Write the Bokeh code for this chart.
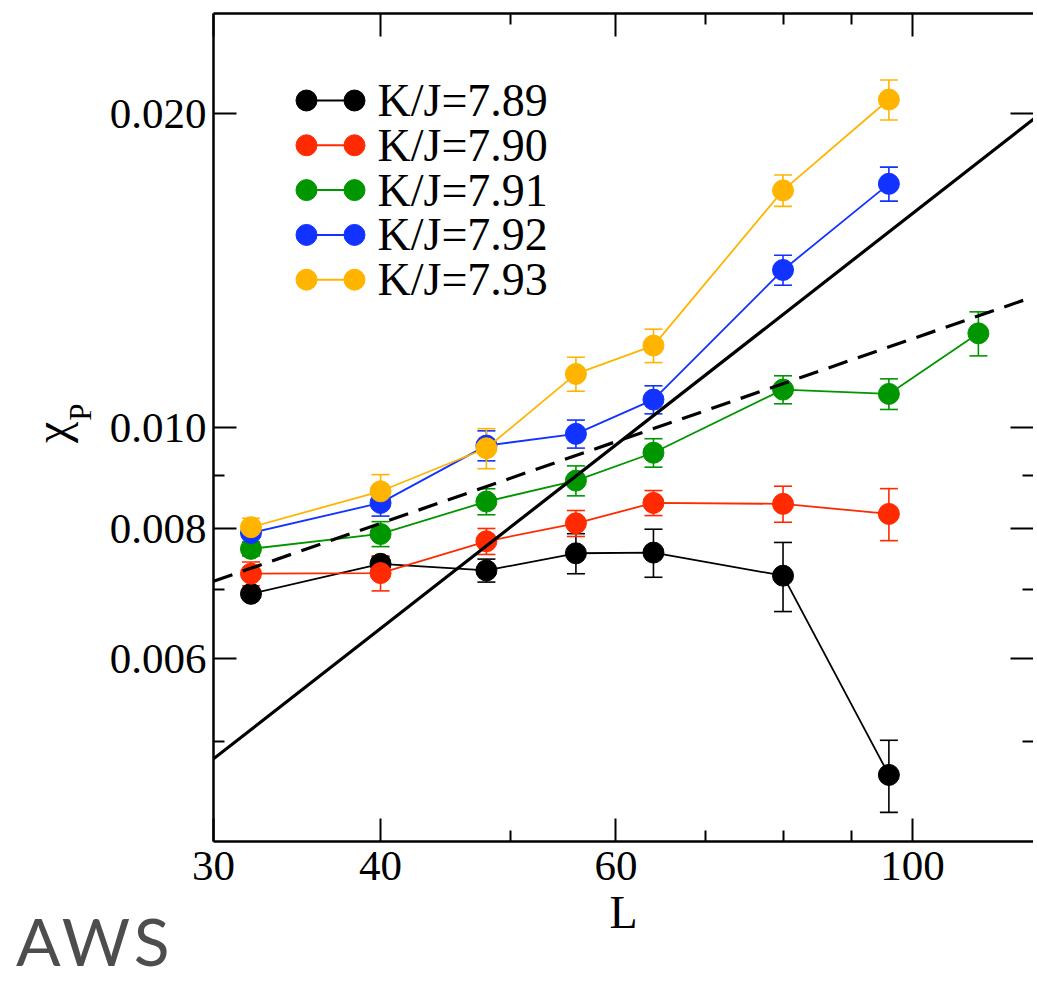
import math
from bokeh.plotting import figure
from bokeh.layouts import column
from bokeh.models import (ColumnDataSource, FixedTicker, CustomJSTickFormatter,
                          LogAxis, Whisker, TeeHead, Div)
from bokeh.core.properties import value
from bokeh.embed import file_html
from bokeh.resources import INLINE

# ---------------- data ----------------
L_789 = [32, 40, 48, 56, 64, 80, 96]
CHI_789 = [0.006928, 0.007403, 0.007295, 0.007577, 0.007588, 0.007211, 0.004645]
ERR_789 = [0.00008, 0.000110, 0.000185, 0.000335, 0.000402, 0.000549, 0.000369]

L_790 = [32, 40, 48, 56, 64, 80, 96]
CHI_790 = [0.007243, 0.007253, 0.007780, 0.008095, 0.008468, 0.008450, 0.008265]
ERR_790 = [0.000190, 0.000280, 0.000223, 0.000232, 0.000234, 0.000336, 0.000474]

L_791 = [32, 40, 48, 56, 64, 80, 96, 112]
CHI_791 = [0.007651, 0.007907, 0.008493, 0.008895, 0.009460, 0.010875, 0.010772, 0.012313]
ERR_791 = [0.000118, 0.000218, 0.000244, 0.000294, 0.000297, 0.000336, 0.000364, 0.000598]

L_792 = [32, 40, 48, 56, 64, 80, 96]
CHI_792 = [0.007925, 0.008468, 0.009610, 0.009862, 0.010637, 0.014162, 0.017128]
ERR_792 = [0.0000875, 0.000243, 0.000318, 0.000305, 0.000329, 0.000469, 0.000643]

L_793 = [32, 40, 48, 56, 64, 80, 96]
CHI_793 = [0.008026, 0.008688, 0.009554, 0.011258, 0.011985, 0.016880, 0.020630]
ERR_793 = [0.000159, 0.000326, 0.000422, 0.000422, 0.000442, 0.000585, 0.000911]

SERIES_LABELS = ["K/J=7.89", "K/J=7.90", "K/J=7.91", "K/J=7.92", "K/J=7.93"]
SERIES_COLORS = ["#000000", "#ff2a00", "#009600", "#1232ff", "#ffb400"]

FIT_L = [30, 124]
FIT_SOLID = [0.004813, 0.019895]
FIT_DASHED = [0.007123, 0.013388]

X_TICKS = [30, 40, 60, 100]
X_MINOR = [50, 70, 80, 90]
Y_TICKS = [0.006, 0.008, 0.010, 0.020]
Y_MINOR = [0.005, 0.007, 0.009]

X_LABEL = "L"
Y_LABEL_MAIN = "χ"
Y_LABEL_SUB = "P"
WATERMARK = "AWS"

# ---------------- geometry ----------------
FW, FH = 820, 828              # frame size in px
PXD_X, PXD_Y = 1337.0, 1043.0  # px per decade
X_START = 30.0
X_END = 10 ** (math.log10(X_START) + FW / PXD_X)
Y_START = 0.00401
Y_END = 10 ** (math.log10(Y_START) + FH / PXD_Y)
FL, FT = 213, 13               # frame left / top in page px
FB = FT + FH
FIG_H = 944


def fx(px):
    return 10 ** (math.log10(X_START) + (px - FL) / PXD_X)


def fy(py):
    return 10 ** (math.log10(Y_START) + (FB - py) / PXD_Y)


SERIF = "Liberation Serif"

p = figure(x_axis_type="log", y_axis_type="log",
           x_range=(X_START, X_END), y_range=(Y_START, Y_END),
           frame_width=FW, frame_height=FH,
           min_border_left=FL, min_border_right=0,
           min_border_top=FT, min_border_bottom=FIG_H - FB,
           output_backend="svg", toolbar_location=None,
           background_fill_color="white", border_fill_color="white")
p.outline_line_color = None
p.xgrid.visible = False
p.ygrid.visible = False

xfmt = CustomJSTickFormatter(code="return tick.toFixed(0)")
yfmt = CustomJSTickFormatter(code="return tick.toFixed(3)")
blank = CustomJSTickFormatter(code="return ''")


def style_axis(ax, ticks, minor, fmt, font_size, standoff):
    ax.ticker = FixedTicker(ticks=ticks, minor_ticks=minor)
    ax.formatter = fmt
    ax.major_tick_in = 23
    ax.major_tick_out = 0
    ax.minor_tick_in = 11
    ax.minor_tick_out = 0
    ax.major_tick_line_width = 2
    ax.minor_tick_line_width = 2
    ax.major_tick_line_color = "black"
    ax.minor_tick_line_color = "black"
    ax.axis_line_width = 2.5
    ax.axis_line_color = "black"
    ax.major_label_text_font = SERIF
    ax.major_label_text_font_size = font_size
    ax.major_label_text_color = "black"
    ax.major_label_standoff = standoff


xax = p.xaxis[0]
style_axis(xax, X_TICKS, X_MINOR, xfmt, "43px", 10)
xax.axis_label = X_LABEL
xax.axis_label_text_font = SERIF
xax.axis_label_text_font_size = "46px"
xax.axis_label_text_font_style = "normal"
xax.axis_label_text_color = "black"
xax.axis_label_standoff = 4

yax = p.yaxis[0]
style_axis(yax, Y_TICKS, Y_MINOR, yfmt, "43px", 7)
# subscript "P" of the y label (closest to the axis)
yax.axis_label = "\u2002\u2002" + Y_LABEL_SUB
yax.axis_label_text_font = SERIF
yax.axis_label_text_font_size = "31px"
yax.axis_label_text_font_style = "normal"
yax.axis_label_text_color = "black"
yax.axis_label_standoff = 9

# main symbol chi of the y label, on an outer bare axis
yax2 = LogAxis(ticker=FixedTicker(ticks=[], minor_ticks=[]), formatter=blank)
yax2.axis_line_color = None
yax2.major_tick_line_color = None
yax2.minor_tick_line_color = None
yax2.major_tick_in = 0
yax2.major_tick_out = 0
yax2.minor_tick_in = 0
yax2.minor_tick_out = 0
yax2.major_label_text_font_size = "1px"
yax2.major_label_standoff = 0
yax2.axis_label = Y_LABEL_MAIN + "\u2009"
yax2.axis_label_text_font = SERIF
yax2.axis_label_text_font_size = "48px"
yax2.axis_label_text_font_style = "normal"
yax2.axis_label_text_color = "black"
yax2.axis_label_standoff = -18
p.add_layout(yax2, "left")

top = LogAxis()
style_axis(top, X_TICKS, X_MINOR, blank, "1px", 0)
p.add_layout(top, "above")
right = LogAxis()
style_axis(right, Y_TICKS, Y_MINOR, blank, "1px", 0)
right.axis_line_color = None
p.add_layout(right, "right")

all_series = [(L_789, CHI_789, ERR_789), (L_790, CHI_790, ERR_790),
              (L_791, CHI_791, ERR_791), (L_792, CHI_792, ERR_792),
              (L_793, CHI_793, ERR_793)]

for (Ls, chi, err), color in zip(all_series, SERIES_COLORS):
    src = ColumnDataSource(dict(L=Ls, chi=chi,
                                upper=[c + e for c, e in zip(chi, err)],
                                lower=[c - e for c, e in zip(chi, err)]))
    w = Whisker(source=src, base="L", upper="upper", lower="lower",
                line_color=color, line_width=1.6,
                upper_head=TeeHead(size=18, line_color=color, line_width=1.6),
                lower_head=TeeHead(size=18, line_color=color, line_width=1.6))
    p.add_layout(w)
    p.line("L", "chi", source=src, line_color=color, line_width=1.8)
    p.scatter("L", "chi", source=src, size=21, fill_color=color, line_color=color)

# reference power laws
p.line(FIT_L, FIT_SOLID, line_color="black", line_width=3.2)
p.line(FIT_L, FIT_DASHED, line_color="black", line_width=3.2, line_dash="20 11")

# legend drawn like the original (circle - line - circle)
for i, (lab, color) in enumerate(zip(SERIES_LABELS, SERIES_COLORS)):
    ry = fy(100 + 44.8 * i)
    p.line([fx(306), fx(354)], [ry, ry], line_color=color, line_width=2)
    p.scatter([fx(306), fx(354)], [ry, ry], size=21, fill_color=color, line_color=color)
    p.text([fx(377)], [ry], text=[lab], text_font=value(SERIF),
           text_font_size="46px", text_baseline="middle", text_align="left",
           text_color="black")

# watermark in the lower-left corner (box pulled up over the figure's margin)
AWS_OVERLAP = 44
aws = Div(text=('<div style="position:relative; left:16px; padding-top:8px; '
                'font-family:Lato, sans-serif; font-size:66px; line-height:66px; '
                'letter-spacing:4px; color:#4d4d4d; white-space:nowrap;">'
                + WATERMARK + '</div>'),
          width=300, height=982 - FIG_H + AWS_OVERLAP,
          margin=(-AWS_OVERLAP, 0, 0, 0))

page = column(p, aws, spacing=0)
open("out.html", "w").write(file_html(page, INLINE))
